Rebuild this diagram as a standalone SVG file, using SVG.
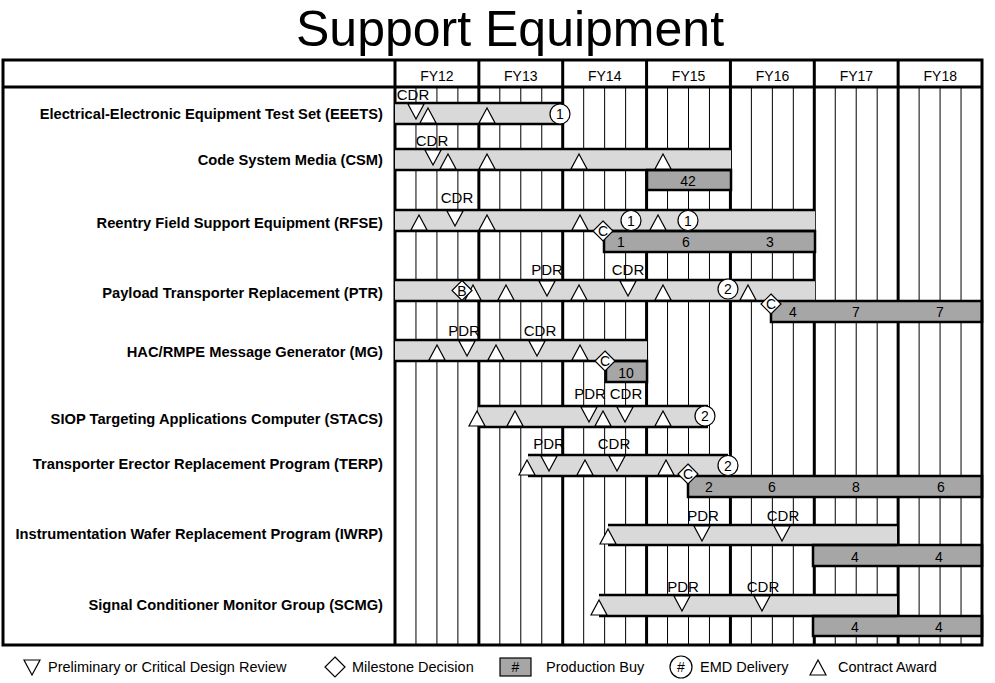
<svg xmlns="http://www.w3.org/2000/svg" xmlns:xlink="http://www.w3.org/1999/xlink" width="995" height="683" viewBox="0 0 995 683">
<style>
text{font-family:"Liberation Sans",Arial,sans-serif;fill:#000}
.title{font-size:50px;text-anchor:middle}
.yr{font-size:14px;text-anchor:middle}
.lbl{font-size:14.7px;font-weight:bold;text-anchor:end}
.mk{font-size:15px;text-anchor:middle}
.num{font-size:14px;text-anchor:middle}
.leg{font-size:14.5px}
.bar{fill:#d9d9d9;stroke:none}
.edge{stroke:#000;stroke-width:2.5;fill:none}
.prod{fill:#a6a6a6;stroke:#000;stroke-width:2.5}
.sym{fill:#fff;stroke:#000;stroke-width:1.2}
.thin{stroke:#000;stroke-width:1;fill:none}
.thick{stroke:#000;stroke-width:3;fill:none}
</style>
<defs>
<path id="up" d="M-8,0 L8,0 L0,-15 Z" class="sym"/>
<path id="dn" d="M-8,0 L8,0 L0,15 Z" class="sym"/>
<path id="dia" d="M0,-10 L10,0 L0,10 L-10,0 Z" class="sym"/>
<circle id="cir" r="10" class="sym"/>
</defs>
<text class="title" x="510" y="46">Support Equipment</text>
<g id="grid">
<rect x="3" y="60" width="979" height="585" fill="#fff"/>
<path class="thin" d="M415.96,87V645M436.93,87V645M457.89,87V645M499.82,87V645M520.79,87V645M541.75,87V645M583.68,87V645M604.64,87V645M625.61,87V645M667.54,87V645M688.5,87V645M709.46,87V645M751.39,87V645M772.36,87V645M793.32,87V645M835.25,87V645M856.21,87V645M877.18,87V645M919.11,87V645M940.07,87V645M961.04,87V645"/>
<path class="thick" d="M395,60V645M478.86,60V645M562.71,60V645M646.57,60V645M730.43,60V645M814.29,60V645M898.14,60V645M3,87H982"/>
<text class="yr" x="436.9" y="81">FY12</text>
<text class="yr" x="520.8" y="81">FY13</text>
<text class="yr" x="604.7" y="81">FY14</text>
<text class="yr" x="688.6" y="81">FY15</text>
<text class="yr" x="772.5" y="81">FY16</text>
<text class="yr" x="856.4" y="81">FY17</text>
<text class="yr" x="940.3" y="81">FY18</text>
</g>
<g id="connectors"></g>
<g id="eeets">
<text class="lbl" x="383" y="119">Electrical-Electronic Equipment Test Set (EEETS)</text>
<rect class="bar" x="395" y="103" width="168" height="21"/>
<path class="edge" d="M395,103H563M395,124H563"/>
<text class="mk" x="413" y="100">CDR</text>
<use xlink:href="#dn" x="416" y="104"/>
<use xlink:href="#up" x="428" y="123"/>
<use xlink:href="#up" x="487" y="123"/>
<use xlink:href="#cir" x="560" y="114"/><text class="num" x="560" y="119">1</text>
</g>
<g id="csm">
<text class="lbl" x="383" y="165">Code System Media (CSM)</text>
<rect class="bar" x="395" y="149" width="336" height="21"/>
<rect class="prod" x="647" y="170" width="84" height="20"/>
<path class="edge" d="M395,149H731M395,170H731"/>
<text class="mk" x="432" y="146">CDR</text>
<use xlink:href="#dn" x="433" y="150"/>
<use xlink:href="#up" x="448" y="169"/>
<use xlink:href="#up" x="487" y="169"/>
<use xlink:href="#up" x="579" y="169"/>
<use xlink:href="#up" x="663" y="169"/>
<text class="num" x="688" y="186">42</text>
</g>
<g id="rfse">
<text class="lbl" x="383" y="228">Reentry Field Support Equipment (RFSE)</text>
<rect class="bar" x="395" y="210" width="420" height="21"/>
<rect class="prod" x="604" y="231" width="211" height="21"/>
<path class="edge" d="M395,210H815M395,231H815"/>
<text class="mk" x="457" y="203">CDR</text>
<use xlink:href="#up" x="419" y="230"/>
<use xlink:href="#dn" x="455" y="211"/>
<use xlink:href="#up" x="487" y="230"/>
<use xlink:href="#up" x="580" y="230"/>
<use xlink:href="#up" x="658" y="230"/>
<use xlink:href="#cir" x="631" y="220.5"/><text class="num" x="631" y="225.5">1</text>
<use xlink:href="#cir" x="688" y="220.5"/><text class="num" x="688" y="225.5">1</text>
<use xlink:href="#dia" x="603" y="231"/><text class="num" x="603" y="236">C</text>
<text class="num" x="621" y="247">1</text>
<text class="num" x="686" y="247">6</text>
<text class="num" x="770" y="247">3</text>
</g>
<g id="ptr">
<text class="lbl" x="383" y="298">Payload  Transporter Replacement (PTR)</text>
<rect class="bar" x="395" y="280" width="420" height="21"/>
<rect class="prod" x="771" y="301" width="211" height="21"/>
<path class="edge" d="M395,280H815M395,301H771"/>
<text class="mk" x="547" y="275">PDR</text>
<text class="mk" x="628" y="275">CDR</text>
<use xlink:href="#up" x="473" y="300"/>
<use xlink:href="#dia" x="462" y="290.5"/><text class="num" x="462" y="295.5">B</text>
<use xlink:href="#up" x="506" y="300"/>
<use xlink:href="#dn" x="547" y="281"/>
<use xlink:href="#up" x="579" y="300"/>
<use xlink:href="#dn" x="628" y="281"/>
<use xlink:href="#up" x="663" y="300"/>
<use xlink:href="#up" x="748" y="300"/>
<use xlink:href="#cir" x="728" y="289"/><text class="num" x="728" y="294">2</text>
<use xlink:href="#dia" x="771" y="304"/><text class="num" x="771" y="309">C</text>
<text class="num" x="793" y="317">4</text>
<text class="num" x="856" y="317">7</text>
<text class="num" x="940" y="317">7</text>
</g>
<g id="mg">
<text class="lbl" x="383" y="357">HAC/RMPE Message Generator (MG)</text>
<rect class="bar" x="395" y="340" width="252" height="21"/>
<rect class="prod" x="606" y="361" width="41" height="21"/>
<path class="edge" d="M395,340H647M395,361H647"/>
<text class="mk" x="464" y="336">PDR</text>
<text class="mk" x="540" y="336">CDR</text>
<use xlink:href="#up" x="437" y="360"/>
<use xlink:href="#dn" x="467" y="341"/>
<use xlink:href="#up" x="496" y="360"/>
<use xlink:href="#dn" x="537" y="341"/>
<use xlink:href="#up" x="580" y="360"/>
<use xlink:href="#dia" x="605" y="361"/><text class="num" x="605" y="366">C</text>
<text class="num" x="626" y="378">10</text>
</g>
<g id="stacs">
<text class="lbl" x="383" y="424">SIOP Targeting Applications Computer (STACS)</text>
<rect class="bar" x="478" y="406" width="230" height="21"/>
<path class="edge" d="M478,406H708M478,427H708"/>
<text class="mk" x="590" y="399">PDR</text>
<text class="mk" x="626" y="399">CDR</text>
<use xlink:href="#up" x="477" y="426"/>
<use xlink:href="#up" x="515" y="426"/>
<use xlink:href="#dn" x="589" y="407"/>
<use xlink:href="#up" x="603" y="426"/>
<use xlink:href="#dn" x="625" y="407"/>
<use xlink:href="#up" x="663" y="426"/>
<use xlink:href="#cir" x="705" y="416"/><text class="num" x="705" y="421">2</text>
</g>
<g id="terp">
<text class="lbl" x="383" y="469">Transporter Erector Replacement Program (TERP)</text>
<rect class="bar" x="528" y="455" width="200" height="21"/>
<rect class="prod" x="688" y="476" width="294" height="21"/>
<path class="edge" d="M528,455H728M528,476H688"/>
<text class="mk" x="549" y="449">PDR</text>
<text class="mk" x="614" y="449">CDR</text>
<use xlink:href="#up" x="527" y="475"/>
<use xlink:href="#dn" x="549" y="456"/>
<use xlink:href="#up" x="585" y="475"/>
<use xlink:href="#dn" x="617" y="456"/>
<use xlink:href="#up" x="666" y="475"/>
<use xlink:href="#cir" x="728" y="465.5"/><text class="num" x="728" y="470.5">2</text>
<use xlink:href="#dia" x="688" y="474"/><text class="num" x="688" y="479">C</text>
<text class="num" x="709" y="492">2</text>
<text class="num" x="772" y="492">6</text>
<text class="num" x="856" y="492">8</text>
<text class="num" x="941" y="492">6</text>
</g>
<g id="iwrp">
<text class="lbl" x="383" y="539">Instrumentation Wafer Replacement Program (IWRP)</text>
<rect class="bar" x="608" y="525" width="289" height="20"/>
<rect class="prod" x="813" y="545" width="169" height="21"/>
<path class="edge" d="M608,525H897M608,545H897"/>
<text class="mk" x="703" y="521">PDR</text>
<text class="mk" x="783" y="521">CDR</text>
<use xlink:href="#up" x="608" y="544"/>
<use xlink:href="#dn" x="702" y="526"/>
<use xlink:href="#dn" x="782" y="526"/>
<text class="num" x="855" y="562">4</text>
<text class="num" x="939" y="562">4</text>
</g>
<g id="scmg">
<text class="lbl" x="383" y="610">Signal Conditioner Monitor Group (SCMG)</text>
<rect class="bar" x="599" y="595" width="298" height="21"/>
<rect class="prod" x="813" y="616" width="169" height="20"/>
<path class="edge" d="M599,595H897M599,616H897"/>
<text class="mk" x="683" y="592">PDR</text>
<text class="mk" x="763" y="592">CDR</text>
<use xlink:href="#up" x="599" y="615"/>
<use xlink:href="#dn" x="682" y="596"/>
<use xlink:href="#dn" x="762" y="596"/>
<text class="num" x="855" y="632">4</text>
<text class="num" x="939" y="632">4</text>
</g>
<rect x="3" y="60" width="979" height="585" class="thick"/>
<g id="legend">
<use xlink:href="#dn" x="32" y="660"/>
<text class="leg" x="48" y="672">Preliminary or Critical Design Review</text>
<use xlink:href="#dia" x="335" y="667"/>
<text class="leg" x="352" y="672">Milestone Decision</text>
<rect x="500" y="658" width="31" height="18" fill="#a6a6a6" stroke="#000" stroke-width="1.2"/>
<text class="num" x="515.5" y="672">#</text>
<text class="leg" x="546" y="672">Production Buy</text>
<circle cx="681" cy="667" r="11" class="sym"/>
<text class="num" x="681" y="672">#</text>
<text class="leg" x="700" y="672">EMD Delivery</text>
<use xlink:href="#up" x="818" y="675"/>
<text class="leg" x="838" y="672">Contract Award</text>
</g>
</svg>
